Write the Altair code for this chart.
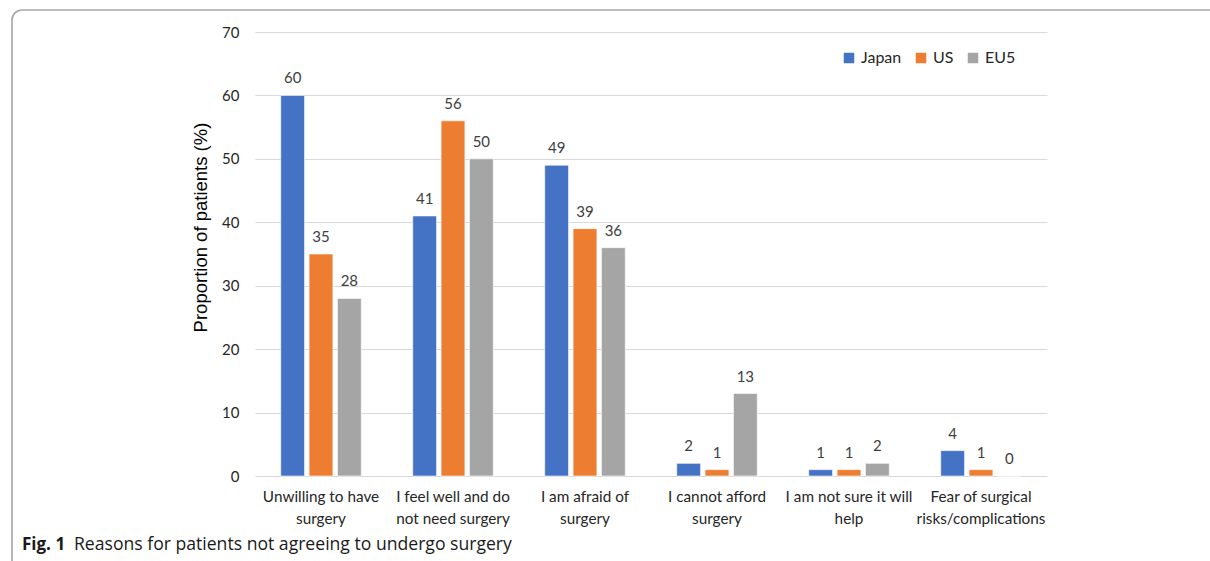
import altair as alt
import pandas as pd

# Survey responses: reasons for not agreeing to surgery, by region (%)
reasons = [
    "Unwilling to have\nsurgery",
    "I feel well and do\nnot need surgery",
    "I am afraid of\nsurgery",
    "I cannot afford\nsurgery",
    "I am not sure it will\nhelp",
    "Fear of surgical\nrisks/complications",
]
regions = ["Japan", "US", "EU5"]
japan = [60, 41, 49, 2, 1, 4]
us = [35, 56, 39, 1, 1, 1]
eu5 = [28, 50, 36, 13, 2, 0]
colors = ["#4472C4", "#ED7D31", "#A5A5A5"]

rows = []
for region, vals in zip(regions, [japan, us, eu5]):
    for reason, v in zip(reasons, vals):
        rows.append({"reason": reason, "region": region, "value": v})
df = pd.DataFrame(rows)

W, H = 792, 444
PAD_L, PAD_T = 255, 32

x = alt.X(
    "reason:N",
    sort=reasons,
    scale=alt.Scale(paddingInner=0.39, paddingOuter=0.195),
    axis=alt.Axis(
        title=None,
        labelAngle=0,
        labelExpr="split(datum.label, '\\n')",
        labelFont="Lato",
        labelFontSize=15.3,
        labelColor="#262626",
        labelLineHeight=22,
        labelPadding=13,
        labelLimit=300,
        ticks=False,
        grid=False,
        domain=False,  # the 0 gridline serves as the baseline
    ),
)
xoff = alt.XOffset(
    "region:N", sort=regions, scale=alt.Scale(paddingInner=0.16, paddingOuter=0)
)
y = alt.Y(
    "value:Q",
    scale=alt.Scale(domain=[0, 70], nice=False),
    axis=alt.Axis(
        values=[0, 10, 20, 30, 40, 50, 60, 70],
        title="Proportion of patients (%)",
        titleFont="Liberation Sans",
        titleFontSize=18.5,
        titleFontWeight="normal",
        titleColor="#000000",
        titleAngle=-90,
        titleAlign="center",
        titleBaseline="middle",
        titleX=-55,
        titleY=195,
        labelFont="Lato",
        labelFontSize=15,
        labelColor="#262626",
        labelPadding=16,
        ticks=False,
        domain=False,
        domainOpacity=0,
        gridColor="#D9D9D9",
        gridWidth=1.2,
    ),
)
color = alt.Color(
    "region:N",
    sort=regions,
    scale=alt.Scale(domain=regions, range=colors),
    legend=alt.Legend(
        title=None,
        orient="none",
        legendX=586,
        legendY=18,
        direction="horizontal",
        symbolType="square",
        symbolSize=110,
        symbolStrokeWidth=0,
        labelFont="Lato",
        labelFontSize=16,
        labelColor="#262626",
        columnPadding=11,
        labelOffset=4,
    ),
)

bars = alt.Chart(df).mark_bar(stroke="white", strokeWidth=0.6).encode(
    x=x, xOffset=xoff, y=y, color=color
)
labels = alt.Chart(df).mark_text(
    baseline="bottom", dy=-9, font="Lato", fontSize=15, color="#404040"
).encode(x=x, xOffset=xoff, y=y, text="value:Q")

# Rounded panel outline around the figure
frame = alt.Chart(pd.DataFrame({"k": [0]})).mark_rect(
    fill=None, stroke="#A6A6A6", strokeWidth=1.6, cornerRadius=10
).encode(
    x=alt.value(12 - PAD_L),
    x2=alt.value(1260 - PAD_L),
    y=alt.value(10 - PAD_T),
    y2=alt.value(620 - PAD_T),
)

caption = pd.DataFrame({"k": [0]})
fig_tag = alt.Chart(caption).mark_text(
    text="Fig. 1", align="left", baseline="middle", font="Open Sans",
    fontSize=17, fontWeight="bold", color="#1a1a1a"
).encode(x=alt.value(22 - PAD_L), y=alt.value(545 - PAD_T))
fig_text = alt.Chart(caption).mark_text(
    text="Reasons for patients not agreeing to undergo surgery", align="left",
    baseline="middle", font="Open Sans", fontSize=17.6, color="#1a1a1a"
).encode(x=alt.value(74 - PAD_L), y=alt.value(545 - PAD_T))

chart = (
    alt.layer(frame, bars, labels, fig_tag, fig_text)
    .properties(
        width=W,
        height=H,
        padding={"left": PAD_L, "top": PAD_T, "right": 1210 - PAD_L - W, "bottom": 561 - PAD_T - H},
        autosize=alt.AutoSizeParams(type="none"),
    )
    .configure(background="white")
    .configure_view(stroke=None, strokeWidth=0)
)

chart.save("out.html", embed_options={"renderer": "svg", "actions": False})
